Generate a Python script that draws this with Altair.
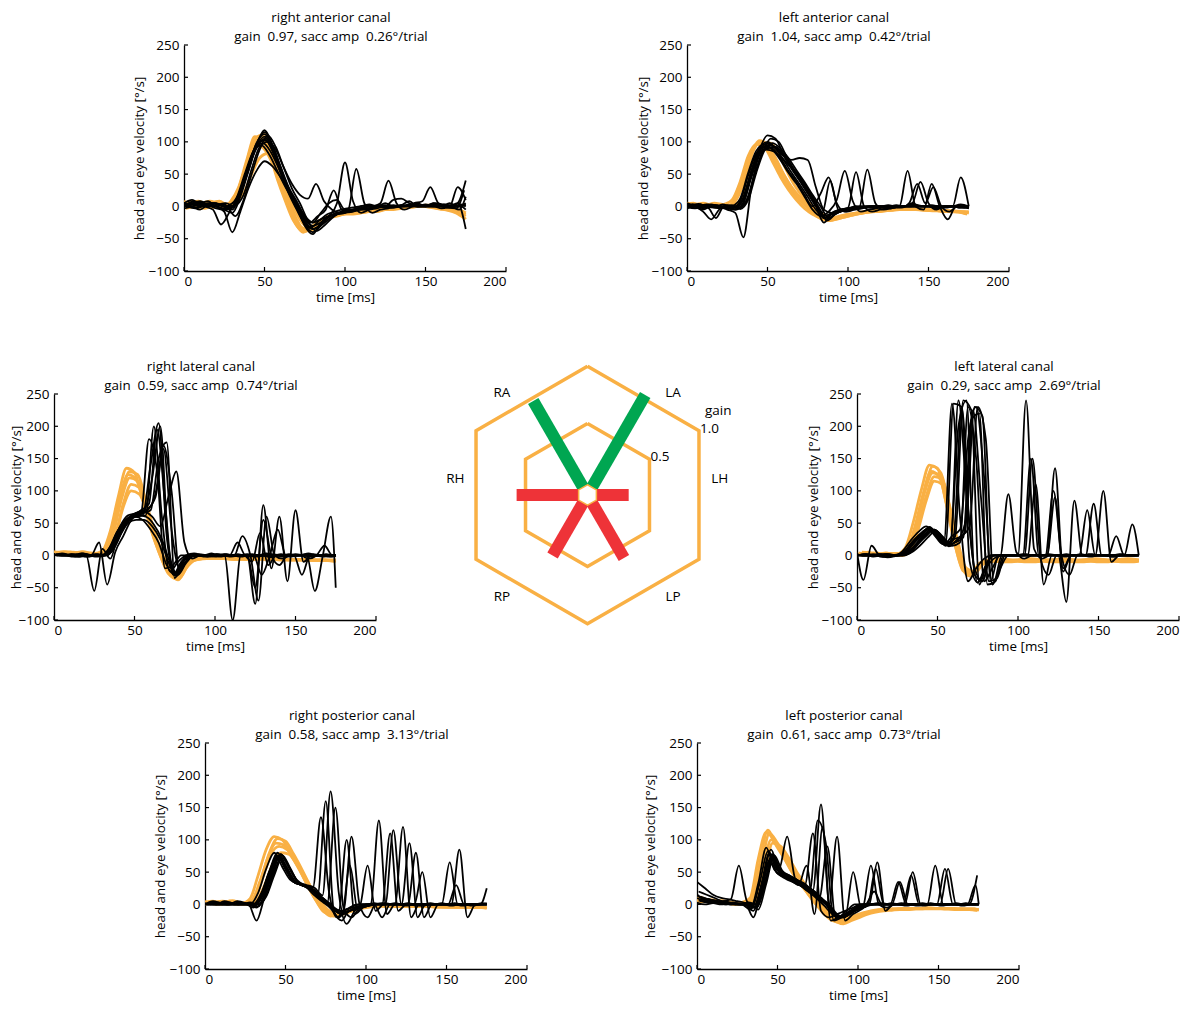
import math
import altair as alt
import pandas as pd

FONT = "Open Sans"
ORANGE = "#F9B044"
GREEN = "#00A651"
RED = "#EE3338"

# ---------------- data: each trace = (time offset ms, values every 5 ms from 0 to 175 ms) ----------------
RA_HEAD = [
    (0, [5, 8, 3, 5, 2, 0, 5, 25, 65, 105, 112, 85, 45, 10, -20, -38, -36, -25, -18, -15, -12, -12, -10, -8, -8, -5, -5, -3, -2, 0, 2, 0, -2, -5, -8, -15]),
    (-1, [2, 5, 8, 3, 0, -3, 8, 30, 72, 108, 100, 75, 38, 5, -25, -40, -33, -22, -16, -14, -12, -10, -10, -8, -6, -5, -3, -2, 0, 0, 0, -2, -4, -6, -10, -18]),
    (1, [-3, 0, 5, 8, 5, 3, 10, 35, 75, 95, 85, 60, 28, 0, -28, -35, -30, -20, -15, -12, -10, -8, -8, -6, -5, -3, -2, 0, 0, 2, 0, 0, -3, -6, -8, -12]),
    (2, [0, 3, -2, 5, 8, 2, 5, 20, 50, 75, 82, 68, 35, 5, -20, -32, -30, -22, -15, -12, -10, -8, -6, -6, -4, -4, -2, 0, 0, 0, 2, 0, -2, -4, -6, -10]),
    (-2, [8, 5, 0, -3, 2, 5, 3, 22, 60, 100, 110, 82, 42, 8, -22, -36, -34, -24, -18, -14, -12, -10, -9, -8, -6, -5, -4, -2, 0, 0, 0, -1, -3, -5, -7, -14]),
    (0, [3, 6, 4, 0, -2, 2, 6, 28, 70, 104, 106, 78, 40, 6, -24, -37, -32, -23, -17, -14, -11, -10, -9, -7, -6, -5, -3, -2, -1, 0, 1, -1, -3, -5, -9, -20]),
]
RA_EYE = [
    (0, [5, 10, 3, 5, 0, -5, -10, 15, 55, 95, 118, 95, 60, 25, 0, -30, -43, -25, -15, -12, -10, -5, -3, -3, 0, 2, 0, 2, 0, 0, 3, 0, 0, 2, 0, 5]),
    (0, [0, 5, 8, 2, -3, -5, 0, 20, 60, 90, 105, 85, 55, 22, 0, -20, -30, -25, -15, 5, 68, 8, -10, -5, -3, 0, -2, 0, 2, 0, 0, 3, 0, -2, 0, 2]),
    (0, [3, 0, -5, 2, 0, -8, -40, -8, 28, 55, 70, 62, 45, 25, 5, -15, -25, -20, -15, -12, -10, -8, -5, -3, 0, 0, 2, 0, 3, 0, 2, 0, 0, 5, 0, 3]),
    (2, [8, 3, 0, 5, 2, 0, 2, 18, 58, 92, 100, 88, 60, 35, 18, 12, 35, 8, -5, -10, -5, 58, 5, -10, -5, -3, 0, 0, 2, 0, 0, 2, 0, 0, 3, 0]),
    (2, [0, -3, 2, 5, 3, -2, -15, 10, 50, 88, 110, 92, 60, 28, 5, -22, -38, -30, -18, -10, -8, -5, -5, 0, 5, 40, 5, -5, 0, 2, 0, 0, 3, 0, 0, -5]),
    (-2, [5, 2, 5, 0, -5, -28, -10, 15, 52, 85, 95, 80, 55, 30, 10, -10, -25, -15, -5, 25, -5, -8, -5, 0, 0, 2, 0, 0, 0, 5, 8, 30, 5, 0, 0, 2]),
    (0, [2, 5, 0, 3, 5, 0, 5, 25, 62, 98, 112, 90, 58, 28, 3, -25, -35, -28, -15, -10, -8, -5, -3, 0, 0, -2, 0, 2, 8, 0, 0, 5, 0, 0, 5, 40]),
    (0, [-3, 0, 5, 8, 0, 3, -5, 20, 55, 92, 108, 88, 52, 20, -5, -28, -40, -30, -20, -12, -8, -6, -3, 0, 0, 5, 0, 0, 2, 5, 0, 0, -3, 0, 5, -35]),
    (0, [5, 3, 0, 2, 0, -3, -2, 22, 60, 96, 115, 94, 62, 30, 8, -15, -25, -10, 5, 10, -5, -5, 0, 3, 0, 0, 10, 12, 5, 0, 0, 3, 0, 0, 30, 10]),
    (1, [0, 8, 5, 0, 3, 5, 0, 28, 68, 100, 102, 82, 50, 18, -8, -30, -35, -25, -15, -10, -5, -5, -3, -3, 0, 0, 0, 2, 0, 0, 2, 5, 3, 0, -5, 15]),
    (-1, [2, 0, -2, 3, 5, 0, -3, 18, 56, 90, 98, 84, 58, 30, 6, -18, -32, -22, -12, -8, -4, -2, 0, 2, 0, 0, -2, 0, 0, 3, 0, 0, 2, -2, -3, 25]),
]

LA_HEAD = [
    (0, [5, 3, 5, 2, 0, 0, 10, 40, 80, 102, 95, 75, 50, 30, 15, 5, -8, -18, -20, -18, -15, -12, -10, -8, -8, -6, -5, -5, -5, -5, -5, -6, -8, -8, -8, -10]),
    (-1, [3, 5, 0, 3, 2, -2, 8, 35, 75, 98, 90, 72, 48, 28, 12, 0, -12, -20, -22, -18, -14, -12, -10, -8, -7, -6, -5, -4, -5, -5, -6, -7, -7, -8, -9, -12]),
    (1, [0, 2, 3, 0, -2, 0, 12, 42, 85, 100, 88, 68, 45, 25, 10, -2, -10, -15, -18, -15, -12, -10, -8, -6, -5, -5, -4, -3, -4, -5, -5, -6, -6, -7, -8, -8]),
    (2, [4, 0, 2, 5, 3, 2, 6, 30, 70, 95, 98, 80, 55, 32, 15, 3, -8, -16, -20, -17, -14, -11, -9, -8, -7, -6, -5, -5, -5, -6, -6, -7, -8, -8, -9, -10]),
    (-2, [2, 4, 3, 0, 0, 3, 10, 38, 78, 96, 92, 70, 46, 26, 10, -3, -12, -18, -19, -16, -13, -11, -9, -7, -6, -5, -5, -4, -4, -4, -5, -6, -7, -8, -8, -11]),
]
LA_EYE = [
    (0, [3, 0, -5, 0, -3, 0, -5, 5, 50, 88, 110, 105, 80, 60, 40, 20, 0, -25, -10, -5, -3, 0, -2, 0, 0, 2, 0, 0, 3, 0, 0, 0, -2, 0, 3, 0]),
    (0, [0, 2, -3, 2, 0, -5, -10, -48, 30, 80, 95, 92, 78, 58, 40, 22, 2, -18, -12, -8, -5, -3, 0, 0, 0, -2, 0, 0, 5, 0, 0, -3, 0, 0, -2, -2]),
    (0, [5, 0, -8, -20, -5, 2, 0, 10, 55, 85, 98, 90, 78, 72, 75, 72, 30, -5, -10, -8, -5, -3, -2, 0, 0, 0, 2, 0, 0, 0, 0, -2, 0, 0, 0, -3]),
    (-2, [0, 3, 0, -2, -18, 0, -3, 8, 48, 82, 92, 90, 75, 55, 38, 18, 0, 20, 45, 5, -8, -5, -3, 0, 0, -2, 0, 0, 0, 0, 0, 0, 0, 0, 0, 0]),
    (-2, [2, -2, 3, 0, 2, -3, 0, 12, 52, 86, 96, 88, 72, 52, 35, 15, -5, -15, -8, 10, 55, 8, -8, -5, -3, 0, 0, 0, 0, 2, 0, 0, -2, 0, 0, -2]),
    (0, [-3, 0, 2, 3, 0, 0, -5, 6, 45, 80, 90, 92, 80, 62, 42, 22, 2, -18, -12, -5, -2, 53, 0, -8, -5, -3, -2, 0, 0, 0, 0, 0, 0, 0, -2, 0]),
    (2, [0, 4, 0, -2, 3, 0, -2, 10, 50, 84, 105, 100, 76, 55, 38, 20, -2, -20, -12, -6, -4, -2, 57, 5, -5, -3, 0, 0, 0, 0, 2, 0, 0, 0, 0, -3]),
    (2, [2, 0, 3, 0, -2, 0, -3, 8, 48, 85, 95, 88, 74, 54, 36, 18, -3, -22, -12, -6, -3, -2, 0, 0, 0, -2, 0, 55, 0, -5, 35, 0, -20, 0, 0, -2]),
    (0, [0, -3, 0, 2, 0, -2, 0, 12, 55, 90, 100, 90, 72, 52, 34, 15, -5, -15, -10, -5, -3, 0, 0, 0, -2, 0, 0, 0, 5, 38, 5, -5, 0, 0, 45, 0]),
    (3, [3, 2, 0, -2, 0, 2, -4, 10, 52, 86, 98, 90, 75, 56, 38, 18, 0, -18, -10, -6, -3, 0, -2, 0, 0, 0, -2, 5, 35, 5, 30, 0, -8, 0, -2, 0]),
    (-1, [0, 2, -2, 0, 2, -2, -5, 8, 46, 80, 88, 85, 75, 62, 50, 30, 5, -10, 40, -5, -8, -5, -3, 0, 0, 0, 0, 0, 0, 0, 0, 0, 0, 0, 0, 0]),
]

RH_HEAD = [
    (2, [5, 5, 3, 5, 2, 0, 8, 40, 95, 130, 125, 85, 40, 5, -25, -38, -20, -8, -5, -5, -5, -5, -6, -6, -6, -5, -5, -6, -7, -7, -7, -7, -8, -8, -8, -8]),
    (1, [3, 6, 5, 2, 0, 3, 5, 35, 90, 125, 118, 78, 35, 0, -28, -35, -18, -6, -4, -4, -5, -5, -5, -5, -6, -6, -5, -6, -6, -7, -7, -7, -7, -8, -8, -9]),
    (3, [5, 2, 4, 6, 3, 2, 6, 30, 80, 110, 105, 70, 30, -2, -25, -32, -15, -5, -3, -3, -4, -4, -5, -5, -5, -5, -5, -5, -6, -6, -6, -6, -7, -7, -7, -7]),
    (3, [4, 5, 2, 3, 4, 2, 4, 28, 75, 100, 95, 65, 28, -5, -30, -35, -16, -6, -4, -4, -4, -5, -5, -5, -5, -5, -6, -6, -6, -6, -7, -7, -7, -7, -8, -8]),
    (0, [6, 4, 5, 4, 3, 3, 7, 38, 92, 135, 128, 88, 42, 6, -22, -36, -22, -9, -6, -5, -5, -5, -6, -6, -6, -6, -6, -6, -7, -7, -7, -7, -7, -8, -8, -9]),
    (2, [4, 3, 5, 3, 1, 2, 7, 36, 88, 120, 115, 80, 36, 2, -26, -34, -18, -7, -5, -4, -5, -5, -6, -5, -6, -5, -6, -6, -6, -7, -7, -7, -8, -7, -8, -8]),
]
RH_EYE = [
    (2, [0, 2, 0, 3, 0, -2, 0, 10, 35, 55, 62, 62, 200, 60, -25, -10, 0, 3, 0, -2, 0, 2, 0, 0, -2, 0, 3, 0, 0, -2, 0, 2, 0, -2, 0, 0]),
    (0, [0, 3, 0, -2, 0, -55, 10, -5, 35, 55, 60, 62, 140, 205, 30, -30, -8, 0, 2, 0, -2, 0, -2, 0, 2, 0, 0, -3, 0, 0, 2, 0, -2, 0, 0, 0]),
    (3, [2, 0, 0, 3, 0, 20, -45, 5, 30, 55, 65, 70, 95, 170, 100, -25, -5, 0, 0, 3, -2, 0, 0, 0, 2, 0, 0, 0, -2, 0, 0, 3, 0, 0, -2, 0]),
    (1, [0, 0, 2, 0, -2, 0, 0, 15, 45, 62, 65, 68, 60, 45, 90, 130, 20, -5, 0, 0, 2, 0, 0, -2, 0, 0, 0, 2, 0, 0, 0, 0, 2, 0, 0, 0]),
    (4, [0, 0, 0, 2, 0, 0, 2, 20, 48, 60, 70, 80, 195, 80, -30, -10, 0, 0, -2, 0, 0, 0, 2, 0, 0, 0, -2, 0, 0, 0, 0, 0, 0, 2, 0, 0]),
    (1, [2, 0, 0, -2, 0, 2, 0, 12, 40, 58, 66, 70, 120, 200, 15, -28, -5, 0, 0, 0, 2, 0, -100, 0, 0, 0, 0, 0, 2, 0, 0, 0, 0, 0, 0, 0]),
    (0, [0, 2, 0, 0, 2, 0, 0, 10, 38, 55, 60, 55, 40, 20, -15, -30, -10, 0, 0, 0, 0, 0, 0, 0, 0, -75, 78, -20, 60, -40, 70, -10, 0, 0, 0, 0]),
    (2, [0, 0, -2, 0, 0, 2, 0, 12, 42, 58, 62, 60, 48, 25, -10, -30, -12, 0, 0, 0, 0, 0, 0, 30, 0, -70, 60, 0, -5, 0, 0, 0, -55, 0, 60, -50]),
    (3, [0, 0, 0, 0, 0, 0, 0, 18, 45, 60, 68, 72, 90, 165, 40, -20, 0, 0, 0, 0, 0, 0, 0, 0, -10, 35, -15, 0, 0, 0, 0, -5, 0, 15, 0, 0]),
    (0, [2, 0, 0, 0, -2, 0, 0, 14, 40, 56, 62, 65, 70, 150, 175, -35, -10, 0, 0, 0, 0, 0, 0, 0, 0, -50, 55, 0, -15, 0, 0, 0, 0, 0, 0, 0]),
    (-1, [0, 2, 0, 2, 0, 0, 0, 10, 36, 52, 58, 64, 180, 130, -20, -15, 0, 0, 0, 0, 0, 0, 0, 20, 0, 0, -30, 0, 40, 0, 0, -30, 0, 0, 0, 0]),
    (1, [0, 0, 2, 0, 0, 0, 0, 8, 32, 50, 55, 55, 45, 25, -10, -32, -12, -2, 0, 0, 0, 2, 0, 0, 0, -2, 0, 0, 0, 2, 0, 0, 0, 0, -2, 0]),
]

LH_HEAD = [
    (2, [2, 5, 0, 3, 2, 0, 10, 50, 100, 138, 128, 80, 22, -22, -30, -15, -10, -8, -7, -8, -9, -8, -7, -8, -9, -8, -7, -8, -9, -8, -7, -8, -9, -8, -7, -8]),
    (1, [4, 2, 3, 0, 0, 2, 8, 45, 95, 130, 122, 75, 16, -24, -28, -12, -8, -6, -7, -8, -7, -6, -7, -8, -7, -6, -7, -8, -7, -6, -7, -8, -7, -6, -7, -8]),
    (3, [0, 3, 2, 4, 0, 0, 6, 40, 85, 115, 110, 68, 12, -20, -25, -10, -6, -5, -6, -7, -6, -5, -6, -7, -6, -5, -6, -7, -6, -5, -6, -7, -6, -5, -6, -7]),
    (0, [3, 0, 4, 2, 3, 3, 12, 52, 102, 140, 135, 85, 25, -18, -32, -16, -10, -9, -10, -10, -9, -10, -10, -9, -10, -10, -9, -10, -10, -9, -10, -10, -9, -10, -10, -9]),
    (3, [5, 4, 0, 2, 3, 1, 9, 45, 92, 122, 116, 72, 18, -24, -28, -14, -9, -7, -8, -8, -8, -7, -8, -8, -8, -7, -8, -8, -8, -7, -8, -8, -8, -7, -8, -8]),
    (2, [3, 2, 4, 1, 2, 2, 9, 48, 98, 128, 124, 78, 20, -23, -29, -13, -9, -7, -8, -8, -7, -8, -8, -7, -8, -8, -7, -8, -8, -7, -8, -8, -7, -8, -8, -7]),
]
LH_EYE = [
    (-1, [5, -38, 15, 0, -3, 0, 5, 20, 32, 40, 30, 20, 235, 60, -40, -20, -5, 0, 0, 95, 5, -5, 0, 0, 2, 0, -2, 0, 0, 2, 0, 0, -2, 0, 0, 0]),
    (0, [0, 2, -2, 0, 2, 0, 4, 18, 30, 42, 32, 18, 235, 230, -10, -42, -15, 0, 0, 0, 0, 240, 10, -5, 0, 0, 2, 0, 0, -2, 0, 0, 0, 2, 0, 0]),
    (4, [0, 0, 2, 0, 0, 0, 5, 15, 28, 38, 25, 15, 20, 230, 150, -40, -20, 0, 0, 0, 0, 150, -5, -30, 0, 0, 0, 2, 0, 0, 0, -2, 0, 0, 0, 0]),
    (1, [0, 2, 0, -2, 0, 2, 6, 22, 35, 42, 28, 16, 30, 240, 225, -45, -10, 0, 0, 0, 0, 0, 110, -45, 0, 0, 0, 0, 0, 2, 0, 0, 0, 0, 0, 0]),
    (3, [0, 0, 0, 0, 0, 0, 4, 18, 30, 40, 30, 18, 25, 60, 230, 215, -40, 0, 0, 0, 2, 0, 0, 0, 135, -20, 0, 0, 0, 0, 0, 0, 2, 0, 0, 0]),
    (0, [0, 0, 2, -2, 0, 0, 5, 20, 33, 44, 30, 15, 28, 230, 40, -42, -20, -5, 0, 0, 0, 0, 0, 0, 0, 0, -72, 85, 0, 0, 0, 0, 0, 0, 0, 0]),
    (2, [0, 0, 0, 2, 0, 0, 5, 18, 32, 38, 28, 14, 24, 35, 225, 90, -40, -35, 0, 0, 0, 0, 0, 0, 100, 0, -30, 0, 0, 80, 0, 0, 0, 0, 0, 0]),
    (-2, [2, 0, 0, 0, 2, 0, 6, 22, 36, 45, 32, 18, 22, 200, 240, -30, -40, 0, 0, 0, 0, 0, 0, 0, 0, 90, -25, 0, 0, 0, 0, 100, -10, 0, 0, 0]),
    (1, [0, 2, 0, 0, -2, 0, 4, 16, 30, 40, 30, 16, 20, 28, 210, 220, -45, -40, 0, 0, 0, 0, 0, 0, 0, 0, 0, 0, 0, 0, 0, 0, 30, 0, 48, 0]),
    (0, [0, 0, 0, 2, 0, 0, 6, 20, 34, 42, 30, 16, 25, 30, 45, 230, 180, -40, 0, 0, 0, 2, 0, 0, 0, 0, 0, 0, 0, 0, 0, 0, 0, 0, 0, 0]),
    (3, [0, 0, 2, 0, 0, 0, 5, 18, 32, 40, 28, 15, 240, 100, -20, -40, 0, 0, 0, 0, 0, 150, 0, 0, 0, 0, 0, 0, 70, 0, 0, 0, 0, 0, 0, 0]),
    (-1, [0, 0, 0, 0, 2, 0, 5, 20, 33, 41, 30, 17, 30, 40, 180, 230, 120, -45, -20, 0, 0, 0, 0, 0, 0, 0, 0, 0, 0, 0, 0, 0, 0, 0, 0, 0]),
]

RP_HEAD = [
    (0, [3, 5, 0, 5, 2, 0, 8, 40, 80, 102, 98, 78, 55, 30, 8, -10, -18, -15, -10, -6, -4, -3, -2, -2, -2, -3, -3, -3, -3, -3, -3, -4, -4, -4, -5, -5]),
    (-1, [5, 2, 3, 0, 4, 2, 6, 35, 72, 95, 92, 74, 52, 28, 6, -12, -16, -12, -8, -5, -3, -2, -2, -3, -3, -3, -3, -3, -3, -4, -4, -4, -4, -5, -5, -5]),
    (1, [2, 4, 5, 2, 0, 3, 10, 42, 78, 90, 85, 68, 48, 25, 5, -8, -15, -14, -9, -5, -3, -3, -2, -2, -2, -2, -3, -3, -3, -3, -4, -4, -4, -4, -4, -5]),
    (2, [4, 0, 3, 6, 2, 1, 6, 30, 62, 80, 78, 62, 42, 22, 4, -10, -17, -14, -10, -6, -4, -3, -3, -3, -3, -3, -3, -3, -4, -4, -4, -4, -5, -5, -5, -6]),
    (-2, [0, 3, 2, 4, 3, 2, 9, 45, 85, 105, 100, 80, 58, 33, 10, -8, -18, -16, -11, -6, -4, -3, -2, -2, -3, -3, -3, -3, -3, -3, -4, -4, -4, -4, -5, -5]),
]
RP_EYE = [
    (0, [0, 5, 2, 0, 5, 2, -5, 15, 50, 75, 55, 35, 30, 25, 12, 2, -8, -15, -10, -5, -3, 0, 2, 0, 0, -2, 0, 0, 2, 0, 0, 0, -2, 0, 0, 2]),
    (2, [3, 0, 5, 2, 0, 0, -25, 12, 48, 78, 58, 38, 30, 26, 135, 20, -20, -8, -5, -2, 0, 0, 2, 0, 0, 0, -2, 0, 0, 2, 0, 0, 0, 0, 2, 0]),
    (0, [0, 2, 0, 3, 0, 2, 0, 18, 52, 80, 58, 36, 30, 24, 15, 160, -10, -25, -5, 0, 0, 2, 0, 0, 0, 0, 0, -2, 0, 0, 0, 2, 0, 0, 0, 0]),
    (3, [2, 0, 3, 0, 2, 0, -3, 14, 50, 76, 56, 34, 30, 26, 14, 175, 20, -30, -10, 0, 0, 0, 0, 2, 0, 0, 0, 0, 0, 0, -2, 0, 0, 0, 0, 0]),
    (1, [0, 3, 0, 0, 3, 0, -2, 15, 48, 74, 55, 35, 30, 25, 12, 3, 150, -5, -20, -5, 0, 0, 0, 0, 0, 2, 0, 0, 0, 0, 0, 0, 0, -2, 0, 0]),
    (3, [0, 0, 2, 0, 0, 3, 0, 12, 45, 72, 54, 34, 28, 22, 10, 0, -10, 100, -15, -5, 0, 130, -15, 0, 0, 0, 0, 0, 0, 0, 0, 0, 0, 0, 0, 0]),
    (1, [0, 0, 0, 2, 0, 0, 0, 16, 50, 76, 56, 36, 30, 24, 14, 4, -8, -10, 105, 0, -20, 0, 0, 0, 0, 0, 0, 0, 0, 0, 0, 0, 0, 0, 0, 0]),
    (0, [2, 0, 0, 0, 2, 0, 0, 14, 48, 75, 55, 35, 30, 25, 14, 2, -8, -15, 60, -10, 0, 0, 0, 110, -10, 0, 0, 0, 0, 0, 0, 0, 0, 0, 0, 0]),
    (2, [0, 2, 0, 0, 0, 0, -5, 15, 50, 78, 58, 36, 28, 24, 12, 2, -8, -12, -8, -5, -2, 0, 0, 115, 0, 95, -20, 0, 0, 0, 65, 0, 0, 0, 0, 0]),
    (-2, [0, 0, 3, 0, 0, 2, 0, 18, 55, 80, 58, 38, 32, 26, 14, 4, -6, -20, -8, -2, 0, 0, 0, 0, 0, 120, -20, 0, 0, 0, 0, 0, 85, -20, 0, 0]),
    (1, [0, 0, 0, 0, 0, 0, -2, 14, 48, 74, 56, 34, 30, 24, 12, 2, -8, -15, -8, -4, 60, -10, 0, 0, 0, 0, 80, -20, 0, 0, 0, 30, 0, 0, 0, 25]),
    (0, [0, 0, 0, 0, 0, 0, 0, 15, 50, 76, 55, 35, 30, 25, 12, 2, -8, -15, -10, -5, -3, 0, -20, 0, 0, 0, 0, 50, -20, 0, 0, 0, 0, 0, 0, 0]),
]

LP_HEAD = [
    (0, [10, 8, 5, 6, 4, 2, 3, 5, 60, 110, 95, 75, 52, 35, 18, 2, -12, -22, -25, -22, -18, -14, -10, -8, -8, -7, -7, -6, -6, -6, -6, -7, -7, -7, -8, -8]),
    (-1, [8, 5, 7, 4, 2, 0, 2, 8, 65, 115, 92, 72, 50, 33, 16, 0, -15, -25, -28, -24, -19, -15, -11, -9, -8, -8, -7, -7, -7, -6, -6, -7, -7, -8, -8, -9]),
    (1, [5, 6, 3, 5, 3, 1, 4, 6, 55, 100, 88, 70, 48, 30, 14, -2, -16, -26, -30, -25, -20, -15, -12, -10, -9, -8, -8, -7, -7, -7, -7, -7, -8, -8, -8, -9]),
    (2, [12, 7, 6, 3, 2, 2, 2, 4, 50, 95, 90, 72, 50, 32, 15, 1, -13, -22, -26, -22, -17, -13, -10, -8, -7, -7, -6, -6, -6, -6, -6, -6, -7, -7, -7, -8]),
    (-2, [6, 4, 5, 3, 3, 0, 3, 10, 70, 112, 98, 78, 55, 36, 20, 3, -10, -20, -24, -21, -17, -13, -10, -8, -7, -7, -6, -6, -6, -5, -6, -6, -6, -7, -7, -7]),
]
LP_EYE = [
    (0, [35, 25, 15, 10, 8, 5, 2, -20, 30, 80, 55, 42, 38, 30, 20, 10, 0, -15, -20, -15, -8, -3, 0, 2, 0, 0, -2, 0, 0, 2, 0, 0, 0, -2, 0, 0]),
    (1, [20, 15, 10, 5, 8, 60, 5, -5, 40, 85, 55, 105, 40, 30, 20, 10, 0, -15, -20, -12, -5, 0, 0, 0, 2, 0, 0, 0, -2, 0, 0, 0, 2, 0, 0, 0]),
    (2, [5, 8, 3, 5, 2, 0, 3, 0, 35, 70, 52, 45, 38, 30, 110, -10, -20, -15, -10, -5, 0, 0, 2, 0, 0, 0, 0, -2, 0, 0, 0, 0, 0, 2, 0, 0]),
    (2, [8, 3, 5, 0, 2, 0, 2, -5, 30, 72, 50, 44, 38, 32, 22, 155, 0, -20, -15, -10, -5, 0, 0, 0, 0, 2, 0, 0, 0, 0, -2, 0, 0, 0, 0, 0]),
    (0, [10, 5, 2, 4, 0, 2, 0, -10, 28, 68, 48, 42, 36, 28, 20, 130, 95, -25, -20, -10, -5, 0, 0, 0, 0, 0, 0, 0, 2, 0, 0, 0, 0, 0, 0, 0]),
    (-2, [15, 10, 8, 5, 3, 2, 0, -8, 32, 88, 54, 44, 38, 30, 60, -15, 120, -25, -20, -10, 0, 0, 0, 0, 0, 0, 0, 0, 0, 0, 0, 0, 0, 0, 0, 0]),
    (2, [5, 3, 5, 2, 0, 0, 2, -5, 30, 75, 50, 42, 36, 30, 22, 10, 0, 105, -25, -15, -8, 0, 0, 0, 0, 0, 0, 0, 0, 0, 0, 0, 0, 0, 0, 0]),
    (2, [12, 8, 5, 2, 3, 0, 0, -5, 30, 78, 52, 44, 38, 28, 20, 10, 0, -15, -20, 50, -5, 0, 65, -10, 0, 0, 0, 0, 0, 0, 0, 0, 0, 0, 0, 0]),
    (1, [6, 4, 2, 3, 0, 0, 0, -5, 32, 74, 50, 42, 36, 30, 20, 10, 90, -20, -20, -10, 0, 0, 55, 0, 0, 35, 0, 0, 0, 0, 0, 55, 0, 0, 0, 0]),
    (3, [10, 5, 3, 0, 2, 0, 0, -8, 32, 76, 52, 44, 36, 28, 20, 8, -5, -20, -18, -10, -5, 60, 0, -5, 0, 0, 45, 0, 0, 60, 0, 0, 0, 0, 30, 0]),
    (-1, [15, 8, 6, 4, 2, 0, 0, -6, 34, 82, 56, 44, 38, 30, 20, 10, -2, -15, -20, -12, -5, 0, 0, 0, 0, 0, 0, 50, 0, 0, 0, 55, 0, 0, 0, 45]),
    (0, [3, 0, 2, 0, 2, 0, 0, -5, 28, 65, 48, 40, 34, 28, 20, 10, 0, -15, -20, -12, -5, 0, 20, 0, 0, 35, 0, 0, 0, 0, 0, 0, 0, 0, 0, 0]),
]

TITLES = {
    "RA": ["right anterior canal", "gain\u00a0 0.97, sacc amp\u00a0 0.26°/trial"],
    "LA": ["left anterior canal", "gain\u00a0 1.04, sacc amp\u00a0 0.42°/trial"],
    "RH": ["right lateral canal", "gain\u00a0 0.59, sacc amp\u00a0 0.74°/trial"],
    "LH": ["left lateral canal", "gain\u00a0 0.29, sacc amp\u00a0 2.69°/trial"],
    "RP": ["right posterior canal", "gain\u00a0 0.58, sacc amp\u00a0 3.13°/trial"],
    "LP": ["left posterior canal", "gain\u00a0 0.61, sacc amp\u00a0 0.73°/trial"],
}
X_TICKS = [0, 50, 100, 150, 200]
Y_TICKS = [-100, -50, 0, 50, 100, 150, 200, 250]

# hexagon diagram
CANALS = ["RA", "LA", "RH", "LH", "RP", "LP"]
GAINS = [0.97, 1.04, 0.59, 0.29, 0.58, 0.61]
DIRECTIONS = [120, 60, 180, 0, 240, 300]
LABEL_ANGLES = [130, 50, 173, 7, -130, -50]
RINGS = [1.0, 0.5]
HOLE = 0.126
LABEL_R = 1.345

PW, PH = 322, 226


def trace_df(head, eye):
    rows = []
    for kind, traces in (("h", head), ("e", eye)):
        for i, (off, vals) in enumerate(traces):
            for k, v in enumerate(vals):
                t = min(175, max(0, off + 5 * k))
                rows.append({"t": t, "v": v, "trace": f"{kind}{i}", "kind": kind, "k": k})
    return pd.DataFrame(rows)


def panel(key, head, eye, title_x):
    df = trace_df(head, eye)
    xs = alt.Scale(domain=[0, 200], nice=False)
    ys = alt.Scale(domain=[-100, 250], nice=False)
    x_axis = alt.Axis(values=X_TICKS, title="time [ms]", titlePadding=3, ticks=False, labelPadding=3)
    y_axis = alt.Axis(values=Y_TICKS, title="head and eye velocity [°/s]", ticks=False, labelPadding=5,
                      titleX=title_x, titleBaseline="middle")
    x = alt.X("t:Q", scale=xs, axis=x_axis)
    y = alt.Y("v:Q", scale=ys, axis=y_axis)
    base = alt.Chart(df).encode(x=x, y=y, detail="trace:N", order="k:Q")
    h = base.transform_filter(alt.datum.kind == "h").mark_line(
        color=ORANGE, strokeWidth=2.8, interpolate="monotone", clip=True)
    e = base.transform_filter(alt.datum.kind == "e").mark_line(
        color="black", strokeWidth=1.8, interpolate="monotone", clip=True)
    # inward tick marks (MATLAB style), placed through the same scales
    yt = alt.Chart(pd.DataFrame({"v": Y_TICKS})).mark_rule(color="black", strokeWidth=1.2).encode(
        y=alt.Y("v:Q", scale=ys, axis=y_axis), x=alt.value(0), x2=alt.value(4))
    xt = alt.Chart(pd.DataFrame({"t": X_TICKS})).mark_rule(color="black", strokeWidth=1.2).encode(
        x=alt.X("t:Q", scale=xs, axis=x_axis), y=alt.value(PH), y2=alt.value(PH - 4))
    return alt.layer(h, e, yt, xt).properties(
        width=PW, height=PH,
        title=alt.TitleParams(TITLES[key], fontSize=13.4, font=FONT, fontWeight="normal",
                              color="black", lineHeight=19, offset=-5, dx=-14, anchor="middle"))


def spacer(w, h=PH):
    return alt.Chart(pd.DataFrame({"a": [0]})).mark_point(opacity=0).encode(
        x=alt.X("a:Q", axis=None), y=alt.Y("a:Q", axis=None)).properties(width=w, height=h)


def hex_chart(w, h, cx, cy, unit):
    c30 = math.cos(math.radians(30))
    xs = alt.Scale(domain=[-cx / unit, (w - cx) / unit], nice=False, zero=False)
    ys = alt.Scale(domain=[-(h - cy) / unit, cy / unit], nice=False, zero=False)

    ring_rows = []
    for g in RINGS:
        R = (HOLE + g) / c30
        for i, a in enumerate([90, 30, -30, -90, -150, 150, 90]):
            ring_rows.append({"ring": str(g), "i": i,
                              "x": R * math.cos(math.radians(a)), "y": R * math.sin(math.radians(a))})
    rings = alt.Chart(pd.DataFrame(ring_rows)).mark_line(
        color=ORANGE, strokeWidth=3.5, strokeJoin="miter").encode(
        x=alt.X("x:Q", scale=xs, axis=None), y=alt.Y("y:Q", scale=ys, axis=None),
        detail="ring:N", order="i:Q")

    bar_rows = []
    for c, g, d in zip(CANALS, GAINS, DIRECTIONS):
        r = HOLE + g
        bar_rows.append({"canal": c, "gain": g, "x0": 0.0, "y0": 0.0,
                         "x1": r * math.cos(math.radians(d)), "y1": r * math.sin(math.radians(d))})
    bars = alt.Chart(pd.DataFrame(bar_rows)).mark_rule(strokeWidth=12, strokeCap="butt").encode(
        x=alt.X("x0:Q", scale=xs, axis=None), y=alt.Y("y0:Q", scale=ys, axis=None),
        x2="x1:Q", y2="y1:Q",
        color=alt.condition("datum.gain >= 0.8", alt.value(GREEN), alt.value(RED)))

    hole = alt.Chart(pd.DataFrame({"x": [0.0], "y": [0.0]})).mark_point(
        shape="M0,-1L0.866,-0.5L0.866,0.5L0,1L-0.866,0.5L-0.866,-0.5Z", size=420,
        filled=True, fill="white", stroke=ORANGE, strokeWidth=1.5, opacity=1).encode(
        x=alt.X("x:Q", scale=xs, axis=None), y=alt.Y("y:Q", scale=ys, axis=None))

    lab_rows = [{"txt": c, "x": LABEL_R * math.cos(math.radians(a)), "y": LABEL_R * math.sin(math.radians(a))}
                for c, a in zip(CANALS, LABEL_ANGLES)]
    labels = alt.Chart(pd.DataFrame(lab_rows)).mark_text(
        font=FONT, fontSize=13.5, color="black").encode(
        x=alt.X("x:Q", scale=xs, axis=None), y=alt.Y("y:Q", scale=ys, axis=None), text="txt:N")

    g_rows = [{"txt": f"{g:.1f}", "x": HOLE + g, "y": (HOLE + g) * math.tan(math.radians(30))} for g in RINGS]
    glabels = alt.Chart(pd.DataFrame(g_rows)).mark_text(
        font=FONT, fontSize=13.5, color="black", align="left", dx=1, dy=-2).encode(
        x=alt.X("x:Q", scale=xs, axis=None), y=alt.Y("y:Q", scale=ys, axis=None), text="txt:N")
    gtitle = alt.Chart(pd.DataFrame([g_rows[0]])).mark_text(
        font=FONT, fontSize=13.5, color="black", align="left", dx=6, dy=-20, text="gain").encode(
        x=alt.X("x:Q", scale=xs, axis=None), y=alt.Y("y:Q", scale=ys, axis=None))

    return alt.layer(rings, bars, hole, labels, glabels, gtitle).properties(width=w, height=h)


p_ra = panel("RA", RA_HEAD, RA_EYE, -45)
p_la = panel("LA", LA_HEAD, LA_EYE, -44)
p_rh = panel("RH", RH_HEAD, RH_EYE, -38)
p_lh = panel("LH", LH_HEAD, LH_EYE, -44)
p_rp = panel("RP", RP_HEAD, RP_EYE, -45)
p_lp = panel("LP", LP_HEAD, LP_EYE, -47)

row1 = alt.hconcat(spacer(173), p_ra, spacer(181), p_la, spacing=0, bounds="flush")
row2 = alt.hconcat(spacer(43), p_rh, hex_chart(481, PH, 211.5, 101, 99.0), p_lh, spacing=0, bounds="flush")
row3 = alt.hconcat(spacer(194), p_rp, spacer(170), p_lp, spacing=0, bounds="flush")

chart = alt.vconcat(row1, row2, row3, spacing=55).properties(
    padding={"left": 0, "top": 2, "right": 0, "bottom": 4}
).configure_view(stroke=None).configure_axis(
    domainColor="black", domainWidth=1.3,
    labelFont=FONT, labelFontSize=13.5, labelColor="black",
    titleFont=FONT, titleFontSize=13.4, titleFontWeight="normal", titleColor="black", grid=False
)

chart.save("out.html", embed_options={"renderer": "svg", "actions": False})
